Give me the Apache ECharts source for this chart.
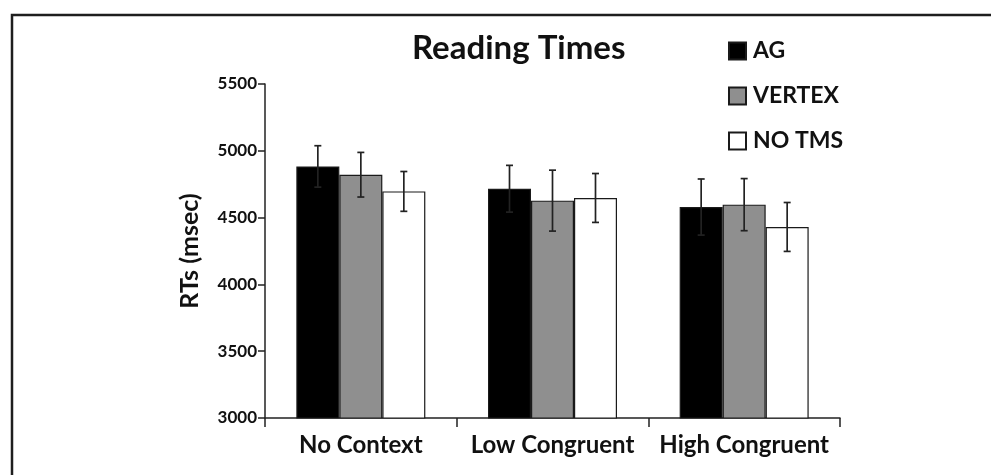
<!DOCTYPE html>
<html>
<head>
<meta charset="utf-8">
<script src="https://cdn.jsdelivr.net/npm/echarts@6/dist/echarts.min.js"></script>
<style>
html,body{margin:0;padding:0;background:#fff;}
#main{width:991px;height:475px;}
</style>
</head>
<body>
<div id="main"></div>
<script>
var categories = ['No Context', 'Low Congruent', 'High Congruent'];
var seriesNames = ['AG', 'VERTEX', 'NO TMS'];
var agValues = [4883, 4716, 4579];
var agErrors = [155, 175, 210];
var vertexValues = [4821, 4627, 4597];
var vertexErrors = [167, 228, 195];
var noTmsValues = [4696, 4647, 4430];
var noTmsErrors = [149, 183, 183];
var yTicks = [3000, 3500, 4000, 4500, 5000, 5500];

var FONT = 'Lato';
var CAT_GAP = 0.327;
var colors = ['#000000', '#8f8f8f', '#ffffff'];
var valueSets = [agValues, vertexValues, noTmsValues];
var errorSets = [agErrors, vertexErrors, noTmsErrors];

function errorSeries(sIdx) {
  var vals = valueSets[sIdx], errs = errorSets[sIdx];
  var data = vals.map(function (v, i) { return [i, v, errs[i]]; });
  return {
    type: 'custom',
    name: seriesNames[sIdx] + ' err',
    z: 10,
    silent: true,
    encode: { x: 0, y: 1 },
    data: data,
    renderItem: function (params, api) {
      var ci = api.value(0), v = api.value(1), e = api.value(2);
      var catW = api.size([1, 0])[0];
      var barW = catW * (1 - CAT_GAP) / 3;
      var center = api.coord([ci, v]);
      var x = center[0] + (sIdx - 1) * barW;
      var yTop = api.coord([ci, v + e])[1];
      var yBot = api.coord([ci, v - e])[1];
      var cap = 3.5;
      var style = { stroke: '#222', lineWidth: 1.7 };
      return {
        type: 'group',
        children: [
          { type: 'line', shape: { x1: x, y1: yTop, x2: x, y2: yBot }, style: style },
          { type: 'line', shape: { x1: x - cap, y1: yTop, x2: x + cap, y2: yTop }, style: style },
          { type: 'line', shape: { x1: x - cap, y1: yBot, x2: x + cap, y2: yBot }, style: style }
        ]
      };
    }
  };
}

function barSeries(sIdx) {
  return {
    type: 'bar',
    name: seriesNames[sIdx],
    data: valueSets[sIdx],
    barGap: 0,
    barCategoryGap: (CAT_GAP * 100) + '%',
    itemStyle: { color: colors[sIdx], borderColor: '#1a1a1a', borderWidth: 1.2 },
    emphasis: { disabled: true }
  };
}

var chart = echarts.init(document.getElementById('main'), null, { renderer: 'canvas' });
chart.setOption({
  backgroundColor: '#ffffff',
  animation: false,
  title: {
    text: 'Reading Times',
    left: 407,
    top: 27,
    textStyle: { fontFamily: FONT, fontWeight: 'bold', fontSize: 33, color: '#111' }
  },
  legend: {
    orient: 'vertical',
    left: 723,
    top: 33,
    itemWidth: 17,
    itemHeight: 17,
    itemGap: 19,
    icon: 'rect',
    data: seriesNames,
    textStyle: { fontFamily: FONT, fontWeight: 'bold', fontSize: 23, color: '#111', lineHeight: 26, padding: [0, 0, 0, 2] }
  },
  grid: { left: 265, right: 151, top: 84, bottom: 57 },
  xAxis: {
    type: 'category',
    data: categories,
    axisLine: { lineStyle: { color: '#222', width: 1.5 } },
    axisTick: { show: true, length: 9, lineStyle: { color: '#222', width: 1.5 } },
    axisLabel: { interval: 0, fontFamily: FONT, fontWeight: 'bold', fontSize: 24, color: '#111', margin: 15 }
  },
  yAxis: {
    type: 'value',
    min: yTicks[0],
    max: yTicks[yTicks.length - 1],
    interval: yTicks[1] - yTicks[0],
    name: 'RTs (msec)',
    nameLocation: 'middle',
    nameGap: 63,
    nameTextStyle: { fontFamily: FONT, fontWeight: 'bold', fontSize: 25, color: '#111' },
    axisLine: { show: true, lineStyle: { color: '#222', width: 1.5 } },
    axisTick: { show: true, length: 7, lineStyle: { color: '#222', width: 1.5 } },
    splitLine: { show: false },
    axisLabel: {
      fontFamily: FONT, fontWeight: 'bold', fontSize: 17, color: '#111', margin: 8,
      formatter: function (v) { return String(v); }
    }
  },
  graphic: [{
    type: 'polyline',
    shape: { points: [[12, 480], [12, 15], [995, 15]] },
    style: { stroke: '#1e1e1e', lineWidth: 2.5, fill: null }
  }],
  series: [barSeries(0), barSeries(1), barSeries(2), errorSeries(0), errorSeries(1), errorSeries(2)]
});
</script>
</body>
</html>
